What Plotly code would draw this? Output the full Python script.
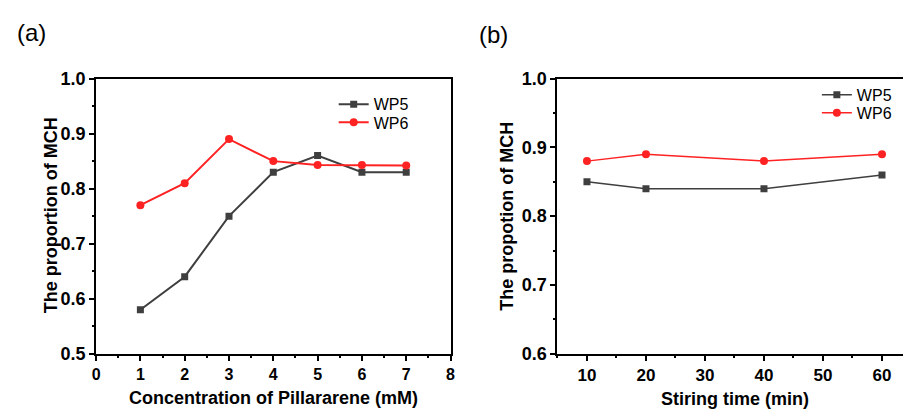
import plotly.graph_objects as go

# ---- data ----
conc = [1, 2, 3, 4, 5, 6, 7]
a_wp5 = [0.58, 0.64, 0.75, 0.83, 0.86, 0.83, 0.83]
a_wp6 = [0.77, 0.81, 0.89, 0.85, 0.843, 0.843, 0.842]

stir_time = [10, 20, 40, 60]
b_wp5 = [0.85, 0.84, 0.84, 0.86]
b_wp6 = [0.88, 0.89, 0.88, 0.89]

series_names = ["WP5", "WP6"]

W, H = 908, 419
GRAY = "#3f3f3f"
RED = "#ff2222"
FONT = "Liberation Sans, Arial, sans-serif"


def px(x):
    return x / W


def py(y):
    return 1 - y / H


fig = go.Figure()

fig.add_trace(go.Scatter(x=conc, y=a_wp5, name=series_names[0], mode="lines+markers",
                         line=dict(color=GRAY, width=2), marker=dict(symbol="square", size=7, color=GRAY),
                         xaxis="x", yaxis="y", legend="legend"))
fig.add_trace(go.Scatter(x=conc, y=a_wp6, name=series_names[1], mode="lines+markers",
                         line=dict(color=RED, width=2), marker=dict(symbol="circle", size=8, color=RED),
                         xaxis="x", yaxis="y", legend="legend2"))
fig.add_trace(go.Scatter(x=stir_time, y=b_wp5, name=series_names[0], mode="lines+markers",
                         line=dict(color=GRAY, width=1.5), marker=dict(symbol="square", size=7, color=GRAY),
                         xaxis="x2", yaxis="y2", legend="legend3"))
fig.add_trace(go.Scatter(x=stir_time, y=b_wp6, name=series_names[1], mode="lines+markers",
                         line=dict(color=RED, width=1.5), marker=dict(symbol="circle", size=8, color=RED),
                         xaxis="x2", yaxis="y2", legend="legend4"))

ax_common = dict(showline=True, linecolor="black", linewidth=2, ticks="outside", ticklen=5,
                 tickwidth=1.5, tickcolor="black", showgrid=False, zeroline=False)

ydom = [py(361), py(72)]


def leg(x, y):
    return dict(x=px(x), y=py(y), xanchor="left", yanchor="middle", bgcolor="rgba(0,0,0,0)",
                font=dict(size=16, family=FONT), itemwidth=30)


fig.update_layout(
    width=W, height=H, autosize=False,
    margin=dict(l=0, r=0, t=0, b=0),
    paper_bgcolor="white", plot_bgcolor="white",
    font=dict(family=FONT, color="black"),
    xaxis=dict(domain=[px(93), px(451)], range=[0, 8], dtick=1, tick0=0, mirror=True,
               tickfont=dict(size=16, weight="bold"), anchor="y",
               minor=dict(ticks="outside", ticklen=2.5, dtick=0.5, tickcolor="black"), **ax_common),
    yaxis=dict(domain=ydom, range=[0.5, 1.0], dtick=0.1, tick0=0.5, mirror=True, tickformat=".1f",
               tickfont=dict(size=18, weight="bold"), anchor="x",
               minor=dict(ticks="outside", ticklen=2.5, dtick=0.05, tickcolor="black"), **ax_common),
    xaxis2=dict(domain=[px(559), 1.0], range=[5, 63.56], dtick=10, tick0=0, mirror=True,
                tickfont=dict(size=17, weight="bold"), anchor="y2",
                minor=dict(ticks="outside", ticklen=2.5, dtick=5, tickcolor="black"), **ax_common),
    yaxis2=dict(domain=ydom, range=[0.6, 1.0], dtick=0.1, tick0=0.6, mirror=False, tickformat=".1f",
                tickfont=dict(size=18, weight="bold"), anchor="x2",
                minor=dict(ticks="outside", ticklen=2.5, dtick=0.05, tickcolor="black"), **ax_common),
    legend=leg(333, 99),
    legend2=leg(333, 118),
    legend3=leg(821, 89),
    legend4=leg(821, 108),
    showlegend=True,
)

annotations = [
    dict(text="(a)", x=px(28), y=py(24), font=dict(size=24, family=FONT)),
    dict(text="(b)", x=px(494), y=py(26), font=dict(size=24, family=FONT)),
    dict(text="Concentration of Pillararene (mM)", x=px(272), y=py(407),
         font=dict(size=18, family=FONT, weight="bold")),
    dict(text="The proportion of MCH", x=px(47), y=py(216), textangle=-90,
         font=dict(size=18, family=FONT, weight="bold")),
    dict(text="Stiring time (min)", x=px(738), y=py(408),
         font=dict(size=18, family=FONT, weight="bold")),
    dict(text="The propotion of MCH", x=px(508), y=py(216), textangle=-90,
         font=dict(size=18, family=FONT, weight="bold")),
]
for a in annotations:
    a.update(xref="paper", yref="paper", showarrow=False, xanchor="center", yanchor="middle")
fig.update_layout(annotations=annotations)

fig.write_html("out.html", config={"displayModeBar": False},
               post_script="document.body.style.margin='0';")
